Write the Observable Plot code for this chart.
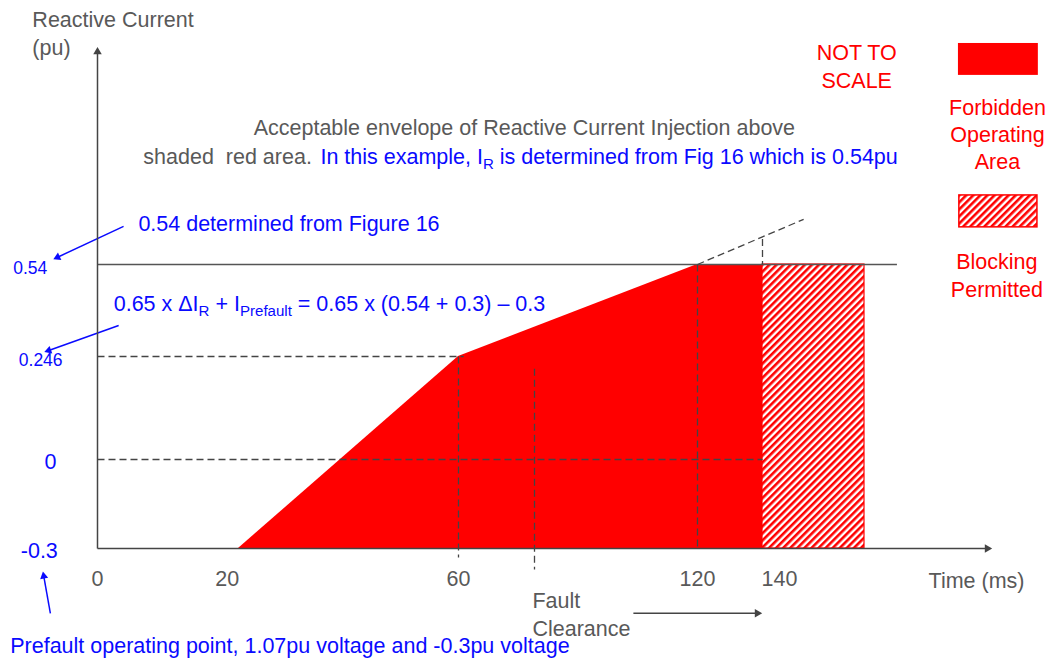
<!DOCTYPE html>
<html><head><meta charset="utf-8">
<script src="https://cdn.jsdelivr.net/npm/d3@7"></script>
<script src="https://cdn.jsdelivr.net/npm/@observablehq/plot@0.6"></script>
<style>
html,body{margin:0;padding:0;background:#fff}
#chart svg{display:block}
</style>
</head><body><div id="chart"></div>
<script>
// ---- Data (the diagram is NOT TO SCALE) ----
const timeTicks = [0, 20, 60, 120, 140];               // ms
const currentTicks = [-0.3, 0, 0.246, 0.54];          // pu
const currentTickLabels = ["-0.3", "0", "0.246", "0.54"];
const forbiddenTime = [20, 60, 120, 140];              // ms
const forbiddenCurrent = [-0.3, 0.246, 0.54, 0.54];   // pu
const blockingTime = [140, 170];                       // ms
const iPrefault = -0.3, iKnee = 0.246, iR = 0.54;
const tKnee = 60, tFull = 120, tBlock = 140, tFault = 75;

// ---- Scales: piecewise ("not to scale") position scales ----
const xOpts = {type: "linear", domain: [-14, 0, 20, 60, 75, 120, 140, 170, 230], range: [0, 97, 238, 458, 534, 697, 762, 864, 1047]};
const yOpts = {type: "linear", domain: [-0.67, -0.3, 0, 0.246, 0.54, 1.4], range: [659, 548, 459, 356, 264, 0]};
const sx = Plot.scale({x: xOpts});
const sy = Plot.scale({y: yOpts});

const forbidden = forbiddenTime.map((t, k) => ({t, i: forbiddenCurrent[k]}));
const blocking = [{t1: blockingTime[0], t2: blockingTime[1], i1: iPrefault, i2: iR}];

const gray = "#595959", axisGray = "#444", blue = "#0a0aff", red = "#ff0000";
const F = 21.5;

// arrows: line + filled triangular head
const arrows = [
  {t1: 3.7, i1: 0.664, t2: -6.5, i2: 0.556, color: blue, r: 3.6},
  {t1: 3.0, i1: 0.345, t2: -7.8, i2: 0.259, color: blue, r: 3.6},
  {t1: -6.8, i1: -0.516, t2: -7.9, i2: -0.374, color: blue, r: 3.6},
  {t1: 102.3, i1: -0.516, t2: 140.3, i2: -0.516, color: axisGray, r: 4},
  {t1: 0, i1: iPrefault, t2: 0, i2: 1.253, color: axisGray, r: 4},
  {t1: 0, i1: iPrefault, t2: 212.3, i2: iPrefault, color: axisGray, r: 4}
];
const heads = arrows.map(a => {
  const x1 = sx.apply(a.t1), y1 = sy.apply(a.i1), x2 = sx.apply(a.t2), y2 = sy.apply(a.i2);
  const dx = x2 - x1, dy = y2 - y1, L = Math.hypot(dx, dy), ux = dx / L, uy = dy / L;
  const h = Math.sqrt(Math.PI * a.r * a.r / (Math.sqrt(3) * 3));
  const cx = x2 - ux * 2 * h, cy = y2 - uy * 2 * h;
  return {t: sx.invert(cx), i: sy.invert(cy), rot: Math.atan2(dx, -dy) * 180 / Math.PI,
          color: a.color, r: a.r, lt1: a.t1, li1: a.i1};
});

const dashed = [
  {t1: 0, i1: iKnee, t2: 61, i2: iKnee},
  {t1: tKnee, i1: iKnee, t2: tKnee, i2: -0.33},
  {t1: 0, i1: 0, t2: tBlock, i2: 0},
  {t1: tFull, i1: iR, t2: tFull, i2: iPrefault},
  {t1: tFault, i1: 0.217, t2: tFault, i2: -0.37},
  {t1: tBlock, i1: 0.623, t2: tBlock, i2: iR},
  {t1: tFull, i1: iR, t2: 152.1, i2: 0.687}
];

const textsStart = [
  {s: "Reactive Current", t: -9.4, i: 1.335, c: gray},
  {s: "(pu)", t: -9.4, i: 1.244, c: gray},
  {s: "shaded\u00a0 red area.", t: 6.5, i: 0.889, c: gray},
  {s: "In this example, I_{R} is determined from Fig 16 which is 0.54pu", t: 34.9, i: 0.889, c: blue},
  {s: "0.54 determined from Figure 16", t: 5.8, i: 0.670, c: blue},
  {s: "0.65 x \u0394I_{R} + I_{Prefault} = 0.65 x (0.54 + 0.3) \u2013 0.3", t: 2.3, i: 0.415, c: blue},
  {s: "Prefault operating point, 1.07pu voltage and -0.3pu voltage", t: -12.6, i: -0.624, c: blue},
  {s: "Time (ms)", t: 191.0, i: -0.408, c: gray},
  {s: "Fault", t: 74.6, i: -0.475, c: gray},
  {s: "Clearance", t: 74.6, i: -0.570, c: gray}
];
const textsMiddle = [
  {s: "Acceptable envelope of Reactive Current Injection above", t: 73.0, i: 0.983, c: gray},
  {s: "NOT TO", t: 167.7, i: 1.227, c: red},
  {s: "SCALE", t: 167.7, i: 1.139, c: red},
  {s: "Forbidden", t: 213.6, i: 1.048, c: red},
  {s: "Operating", t: 213.6, i: 0.960, c: red},
  {s: "Area", t: 213.6, i: 0.872, c: red},
  {s: "Blocking", t: 213.4, i: 0.547, c: red},
  {s: "Permitted", t: 213.4, i: 0.457, c: red}
];

// tick label placement (diagram labels are hand-placed)
const xLabelAt = {0: 0, 20: 18.4, 60: 60, 120: 120, 140: 145};
const yLabelAt = {"-0.3": -8.4, "0": -6.8, "0.246": -8.2, "0.54": -9.7};
const yTickData = currentTicks.map((v, k) => ({v, label: currentTickLabels[k]}));
const yBig = yTickData.filter(d => d.label === "-0.3" || d.label === "0");
const ySmall = yTickData.filter(d => !(d.label === "-0.3" || d.label === "0"));

const legendRects = [
  {t1: 200.8, t2: 227.0, i1: 1.156, i2: 1.260, fill: red, stroke: "none"},
  {t1: 201.1, t2: 226.7, i1: 0.661, i2: 0.765, fill: "url(#hatch)", stroke: red}
];

const chart = Plot.plot({
  width: 1047, height: 659,
  margin: 0,
  x: xOpts, y: yOpts,
  axis: null,
  style: {fontFamily: "'Liberation Sans', Arial, sans-serif", background: "#fff", overflow: "visible"},
  marks: [
    Plot.areaY(forbidden, {x: "t", y1: iPrefault, y2: "i", fill: red}),
    Plot.rect(blocking, {x1: "t1", x2: "t2", y1: "i1", y2: "i2", fill: "url(#hatch)", stroke: red, strokeWidth: 1.2}),
    Plot.ruleY([iR], {x1: 0, x2: 180.8, stroke: "#555", strokeWidth: 1.3}),
    Plot.link(dashed, {x1: "t1", y1: "i1", x2: "t2", y2: "i2", stroke: "#444", strokeWidth: 1.3, strokeDasharray: "7,4"}),
    Plot.link(heads, {x1: "lt1", y1: "li1", x2: "t", y2: "i", stroke: d => d.color, strokeWidth: 1.5}),
    Plot.dot(heads, {x: "t", y: "i", symbol: "triangle", r: d => d.r, rotate: "rot", fill: d => d.color, stroke: "none"}),
    Plot.text(timeTicks, {x: d => xLabelAt[d], y: iPrefault, dy: 31, text: d => String(d), fill: gray, fontSize: F, textAnchor: "middle"}),
    Plot.text(yBig, {x: d => yLabelAt[d.label], y: "v", dy: 3, text: "label", fill: blue, fontSize: F, textAnchor: "middle"}),
    Plot.text(ySmall, {x: d => yLabelAt[d.label], y: "v", dy: 4, text: "label", fill: blue, fontSize: 17.5, textAnchor: "middle"}),
    Plot.rect(legendRects, {x1: "t1", x2: "t2", y1: "i1", y2: "i2", fill: d => d.fill, stroke: d => d.stroke, strokeWidth: 1.5}),
    Plot.text(textsStart, {x: "t", y: "i", text: "s", fill: d => d.c, textAnchor: "start", fontSize: F}),
    Plot.text(textsMiddle, {x: "t", y: "i", text: "s", fill: d => d.c, textAnchor: "middle", fontSize: F})
  ]
});

const ns = "http://www.w3.org/2000/svg";
const defs = document.createElementNS(ns, "defs");
defs.innerHTML = '<pattern id="hatch" patternUnits="userSpaceOnUse" width="5" height="5" patternTransform="rotate(45)"><rect width="5" height="5" fill="#fff"/><rect width="2.6" height="5" fill="#ff0000"/></pattern>';
chart.prepend(defs);

// subscripts: _{...}
chart.querySelectorAll("text").forEach(el => {
  const s = el.textContent;
  if (!s.includes("_{")) return;
  const parts = s.split(/_\{(.*?)\}/);
  el.textContent = "";
  parts.forEach((p, k) => {
    if (p === "") return;
    const ts = document.createElementNS(ns, "tspan");
    ts.textContent = p;
    if (k % 2 === 1) { ts.setAttribute("dy", "5"); ts.setAttribute("font-size", "70%"); }
    else if (k > 0) { ts.setAttribute("dy", "-5"); }
    el.appendChild(ts);
  });
});

document.getElementById("chart").appendChild(chart);
</script>
</body></html>
